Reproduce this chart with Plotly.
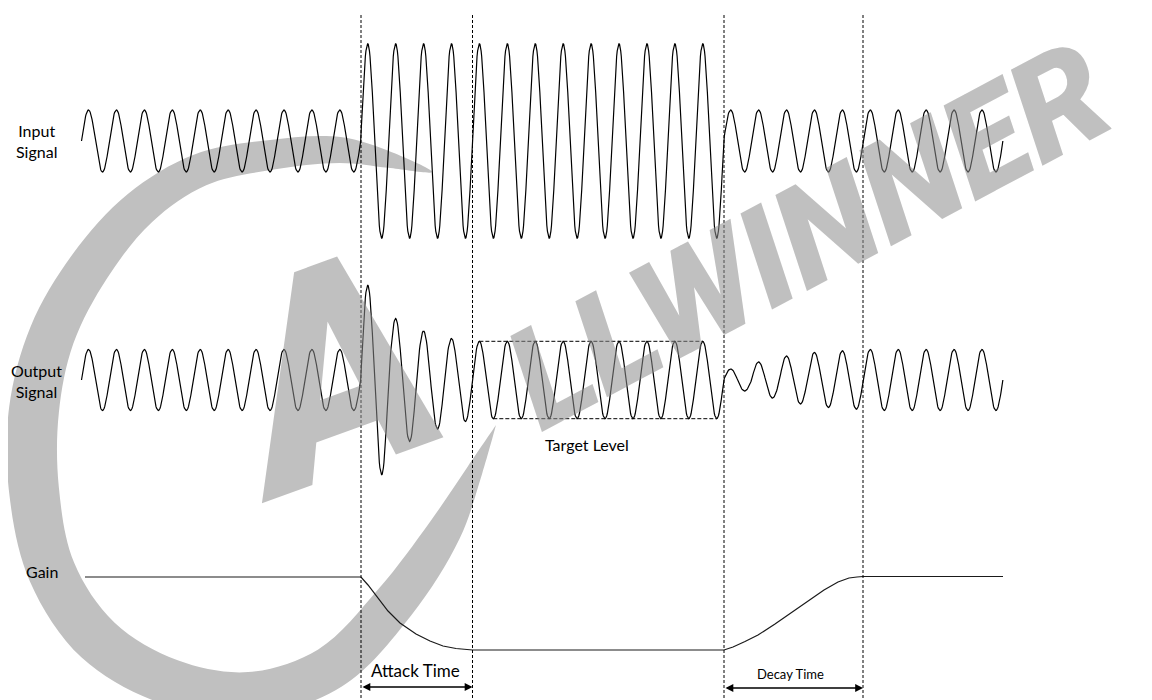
import numpy as np
import plotly.graph_objects as go

W, H = 1152, 700
PAD = 8  # page body margin; the figure starts 8px into the window

# sine cycle timing (drawing units = pixels of the diagram)
x_start = 81.5
period = 27.92

# amplitude of every cycle
input_center = 141
input_amp = [31] * 10 + [97.5] * 13 + [31] * 10
output_center = 380
output_amp = ([30.5] * 10 + [95, 61.5, 49, 41.5] + [38.7] * 9
              + [11, 18, 24, 27.5, 29.2] + [30.5] * 5)
target_cycles = list(range(14, 23))

# phase boundaries (attack start, attack end, decay start, decay end)
phase_edges = [361, 472.5, 724, 863]

# gain curve
gain_x = [85, 361, 368, 377, 388, 400, 416, 430, 443, 456, 467, 472.5,
          724, 733, 745, 758, 775, 791, 808, 824, 838, 849, 857, 863, 1003]
gain_y = [577, 577, 585, 597, 611, 623, 634, 641, 646, 648.5, 649.5, 650,
          650, 647, 641.5, 635, 624, 613, 601, 590, 582, 578, 577, 576.5, 576.5]

# watermark swoosh centreline and width
ring_pts = [(432, 172), (390, 160), (340, 150), (270, 155), (200, 170), (140, 208),
            (90, 266), (52, 335), (34, 410), (34, 490), (52, 572), (98, 640),
            (170, 682), (250, 694), (330, 668), (395, 602), (445, 530), (475, 470),
            (496, 425)]
ring_w = [0, 16, 26, 30, 33, 37, 42, 46, 50, 50, 48, 48, 46, 44, 44, 42, 34, 16, 0]


def wave(center, amps):
    xs, ys = [], []
    for k, a in enumerate(amps):
        t = np.linspace(0, 1, 48, endpoint=False)
        xs.append(x_start + (k + t) * period)
        ys.append(center - a * np.sin(2 * np.pi * t))
    xs.append([x_start + len(amps) * period])
    ys.append([center])
    return np.concatenate(xs), np.concatenate(ys)


def swoosh(pts, widths):
    p = np.array(pts, dtype=float)
    w = np.array(widths, dtype=float) / 2
    d = np.gradient(p, axis=0)
    d /= np.linalg.norm(d, axis=1)[:, None]
    n = np.stack([-d[:, 1], d[:, 0]], axis=1)
    a = p + n * w[:, None]
    b = p - n * w[:, None]
    poly = np.vstack([a, b[::-1]])
    return poly[:, 0], poly[:, 1]


fig = go.Figure()

sx, sy = swoosh(ring_pts, ring_w)
fig.add_trace(go.Scatter(x=sx, y=sy, fill="toself", fillcolor="#c0c0c0",
                         line=dict(width=0, shape="spline"), mode="lines",
                         hoverinfo="skip"))

ix, iy = wave(input_center, input_amp)
fig.add_trace(go.Scatter(x=ix, y=iy, mode="lines", line=dict(color="black", width=1.2)))

ox, oy = wave(output_center, output_amp)
fig.add_trace(go.Scatter(x=ox, y=oy, mode="lines", line=dict(color="black", width=1.2)))

# target level dashed guides
t_amp = output_amp[target_cycles[0]]
top_x = [x_start + (target_cycles[0] + 0.25) * period, x_start + (target_cycles[-1] + 0.25) * period]
bot_x = [x_start + (target_cycles[0] + 0.75) * period, x_start + (target_cycles[-1] + 0.75) * period]
fig.add_trace(go.Scatter(x=top_x, y=[output_center - t_amp] * 2, mode="lines",
                         line=dict(color="black", width=1, dash="4px,2px")))
fig.add_trace(go.Scatter(x=bot_x, y=[output_center + t_amp] * 2, mode="lines",
                         line=dict(color="black", width=1, dash="4px,2px")))

fig.add_trace(go.Scatter(x=gain_x, y=gain_y, mode="lines", line=dict(color="#1a1a1a", width=1.2)))

for xe in phase_edges:
    fig.add_shape(type="line", x0=xe, x1=xe, y0=15, y1=700,
                  line=dict(color="black", width=1, dash="3px,2px"))

label_font = dict(family="Lato", size=16, color="black")
fig.add_annotation(x=36, y=141, text="Input<br>Signal", showarrow=False, font=label_font)
fig.add_annotation(x=36, y=381, text="Output<br>Signal", showarrow=False, font=label_font)
fig.add_annotation(x=42, y=571, text="Gain", showarrow=False, font=label_font)
fig.add_annotation(x=587, y=444, text="Target Level", showarrow=False, font=label_font)
fig.add_annotation(x=415, y=670, text="Attack Time", showarrow=False, font=dict(family="Lato", size=17, color="black"))
fig.add_annotation(x=790, y=674, text="Decay Time", showarrow=False, font=dict(family="Lato", size=13, color="black"))

for a, b, yy in [(phase_edges[0], phase_edges[1], 687), (phase_edges[2], phase_edges[3], 688)]:
    fig.add_annotation(x=b, y=yy, ax=a, ay=yy, xref="x", yref="y", axref="x", ayref="y",
                       text="", showarrow=True, arrowside="end+start", arrowhead=2,
                       arrowsize=1.2, arrowwidth=1.3, arrowcolor="black",
                       standoff=0, startstandoff=0)

# watermark lettering: the big logo "A" inside the swoosh, then the rest of the name
wm_font = dict(family="Roboto", color="rgba(140,140,140,0.55)", weight=900, style="italic")
fig.add_annotation(x=325, y=375, text="A", showarrow=False, textangle=-20,
                   font=dict(size=290, **wm_font))
fig.add_annotation(x=808, y=236, text="LLWINNER", showarrow=False, textangle=-28,
                   font=dict(size=140, **wm_font))

fig.update_layout(width=W - PAD, height=H - PAD, margin=dict(l=0, r=0, t=0, b=0),
                  plot_bgcolor="white", paper_bgcolor="white", showlegend=False,
                  xaxis=dict(range=[PAD, W], visible=False, fixedrange=True),
                  yaxis=dict(range=[H, PAD], visible=False, fixedrange=True))

fig.write_html("out.html")
